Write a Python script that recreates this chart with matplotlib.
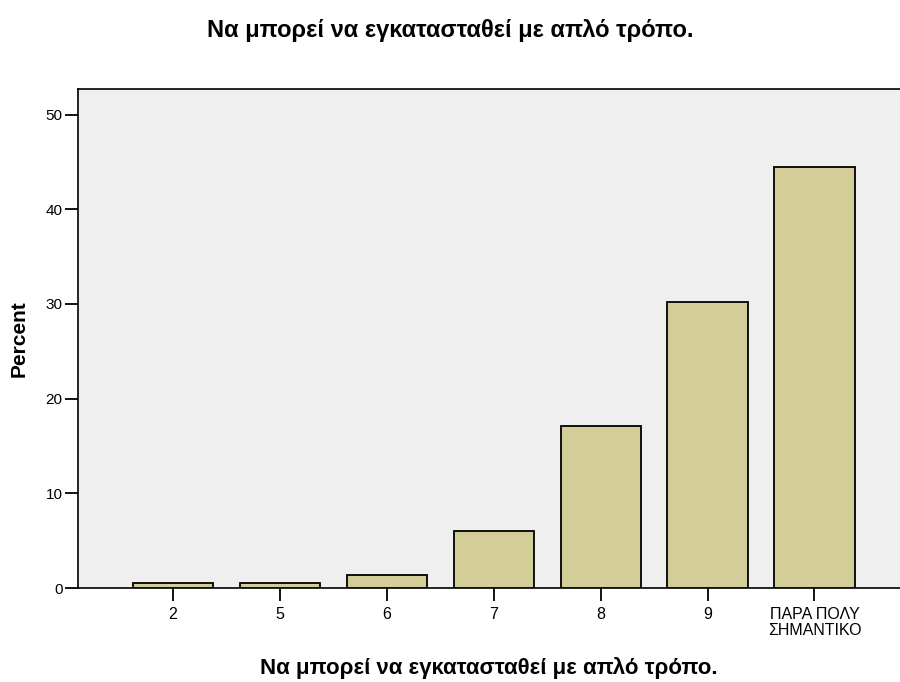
import matplotlib.pyplot as plt

plt.rcParams["font.family"] = ["Liberation Sans", "DejaVu Sans"]

TITLE = "Να μπορεί να εγκατασταθεί με απλό τρόπο."
categories = ["2", "5", "6", "7", "8", "9", "ΠΑΡΑ ΠΟΛΥ\nΣΗΜΑΝΤΙΚΟ"]
percent = [0.5, 0.5, 1.4, 6.0, 17.1, 30.2, 44.5]
y_ticks = [0, 10, 20, 30, 40, 50]

BG = "#EFEFEF"
BAR = "#D3CE97"

fig = plt.figure(figsize=(9, 6.82), dpi=100)
ax = fig.add_axes([0.0872, 0.1378, 1 - 0.0872, 0.8695 - 0.1378])
ax.set_facecolor(BG)

pos = list(range(len(categories)))
ax.bar(pos, percent, width=0.75, color=BAR, edgecolor="black", linewidth=1.3, zorder=3)

ax.set_xlim(-0.883, 6.80)
ax.set_ylim(0, 52.7)
ax.set_xticks(pos)
ax.set_xticklabels(categories, fontsize=11.5, linespacing=1.1)
ax.set_yticks(y_ticks)
ax.tick_params(axis="y", labelsize=11, length=9.5, width=1.3, pad=2, direction="out")
ax.tick_params(axis="x", length=9.5, width=1.3, pad=4, direction="out")

for side in ("left", "top", "bottom"):
    ax.spines[side].set_linewidth(1.2)
ax.spines["right"].set_visible(False)

ax.set_ylabel("Percent", fontsize=15, fontweight="bold")
ax.yaxis.set_label_coords(-0.0724, 0.5)
ax.yaxis.label.set_va("center")

ax.set_xlabel(TITLE, fontsize=16, fontweight="bold")
ax.xaxis.set_label_coords(0.5, -0.160)
ax.xaxis.label.set_va("center")

fig.text(0.5, 1 - 31 / 682, TITLE, ha="center", va="center", fontsize=17, fontweight="bold")

fig.savefig("out.png", dpi=100)
